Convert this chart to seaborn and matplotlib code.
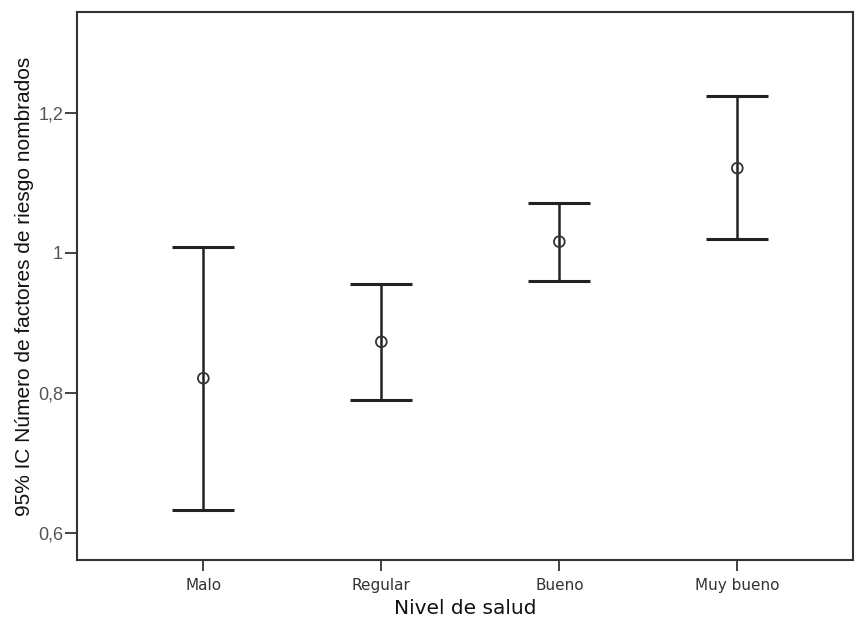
import matplotlib
matplotlib.use("Agg")
import matplotlib.pyplot as plt
import seaborn as sns
import numpy as np
import pandas as pd

categories = ["Malo", "Regular", "Bueno", "Muy bueno"]
means = [0.821, 0.873, 1.016, 1.121]
lower = [0.633, 0.790, 0.960, 1.020]
upper = [1.009, 0.956, 1.071, 1.224]
yticks = [0.6, 0.8, 1.0, 1.2]
ytick_labels = ["0,6", "0,8", "1", "1,2"]

sns.set_theme(style="white")
plt.rcParams['font.family'] = ['Liberation Sans', 'DejaVu Sans']

df = pd.DataFrame({"nivel": categories, "media": means, "lo": lower, "hi": upper})

fig = plt.figure(figsize=(8.55, 6.21), dpi=100)
ax = fig.add_axes([0.090, 0.0982, 0.9077, 0.8825])

xpos = np.arange(len(categories))
yerr = np.array([df["media"] - df["lo"], df["hi"] - df["media"]])
ax.errorbar(xpos, df["media"], yerr=yerr, fmt="none", ecolor="#222222",
            elinewidth=1.8, capsize=22, capthick=2.2, zorder=2)
sns.scatterplot(x=xpos, y=df["media"].values, ax=ax, marker="o", s=60,
                facecolor="none", edgecolor="#333333", linewidth=1.3, zorder=3)

ax.set_xlim(-0.71, 3.65)
ax.set_ylim(0.5614, 1.344)
ax.set_xticks(xpos)
ax.set_xticklabels(categories, fontsize=11, color="#333333", family=["DejaVu Sans"])
ax.set_yticks(yticks)
ax.set_yticklabels(ytick_labels, fontsize=13, color="#555555")
ax.tick_params(axis="y", which="major", direction="out", length=9, width=1.3,
               color="#333333", left=True, pad=1)
ax.tick_params(axis="x", which="major", direction="out", length=8, width=1.3,
               color="#333333", bottom=True, pad=5)

for s in ax.spines.values():
    s.set_color("#333333")
    s.set_linewidth(1.5)

ax.set_xlabel("Nivel de salud", fontsize=14.5, color="#111111", labelpad=4,
              family=["DejaVu Sans"])
ax.set_ylabel("95% IC Número de factores de riesgo nombrados", fontsize=15,
              color="#111111", labelpad=3)
ax.grid(False)

fig.savefig("out.png", dpi=100, facecolor="white")
